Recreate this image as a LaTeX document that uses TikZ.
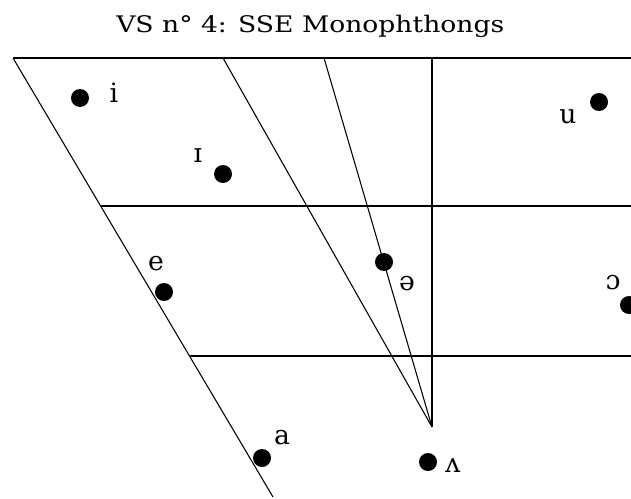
\documentclass[tikz,border=0pt]{standalone}
\usepackage{fontspec}
\usepackage{graphicx}
\newfontfamily\ipafont{DejaVu Serif}
\begin{document}
\begin{tikzpicture}[x=0.75pt,y=-0.75pt,
  dot/.style={circle,fill=black,inner sep=0pt,minimum size=13.5pt},
  lbl/.style={font=\ipafont\fontsize{20}{20}\selectfont,inner sep=0pt,anchor=base},
  top line/.style={line width=1.5pt},
  grid line/.style={line width=1.1pt},
  slant line/.style={line width=0.8pt}]
\useasboundingbox (0,0) rectangle (631,499);
% title
\node[anchor=base west,inner sep=0pt] (title) at (116,33)
  {\resizebox{291pt}{13pt}{\ipafont VS n° 4: SSE Monophthongs}};
% frame coordinates
\coordinate (tl) at (13,58);
\coordinate (tr) at (631,58);
\coordinate (ml) at (100.7,206);
\coordinate (mr) at (631,206);
\coordinate (ll) at (189.5,356);
\coordinate (lr) at (631,356);
\coordinate (lb) at (273,497);
\coordinate (t2) at (223,58);
\coordinate (t3) at (324,58);
\coordinate (tv) at (432,58);
\coordinate (apex) at (432,427);
% lines
\draw[top line] (tl) -- (tr);
\draw[grid line] (ml) -- (mr);
\draw[grid line] (ll) -- (lr);
\draw[grid line] (tv) -- (apex);
\draw[slant line] (tl) -- (lb);
\draw[slant line] (t2) -- (apex);
\draw[slant line] (t3) -- (apex);
% vowels
\node[dot] (d-i) at (80,98) {};
\node[dot] (d-I) at (223,174) {};
\node[dot] (d-u) at (599,102) {};
\node[dot] (d-e) at (164,292) {};
\node[dot] (d-schwa) at (384,262) {};
\node[dot] (d-open) at (629,305) {};
\node[dot] (d-a) at (262,458) {};
\node[dot] (d-wedge) at (428,462) {};
% labels
\node[lbl] (l-i) at (114,103) {i};
\node[lbl] (l-I) at (198,162) {ɪ};
\node[lbl] (l-u) at (568,123) {u};
\node[lbl] (l-e) at (156,270) {e};
\node[lbl] (l-schwa) at (407,290) {ə};
\node[lbl] (l-open) at (613,289) {ɔ};
\node[lbl] (l-a) at (282,444) {a};
\node[lbl] (l-wedge) at (453,472) {ʌ};
\end{tikzpicture}
\end{document}
